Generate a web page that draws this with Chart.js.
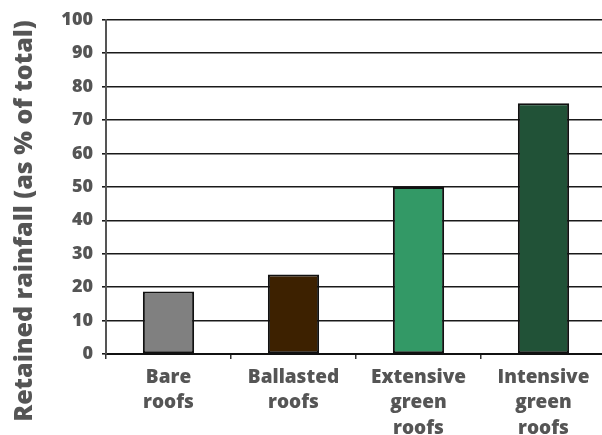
<!DOCTYPE html>
<html>
<head>
<meta charset="utf-8">
<script src="https://cdn.jsdelivr.net/npm/chart.js@4/dist/chart.umd.min.js"></script>
<style>
  html, body { margin: 0; padding: 0; background: #fff; overflow: hidden; }
  #wrap { position: relative; width: 612px; height: 435px; }
</style>
</head>
<body>
<div id="wrap"><canvas id="c" width="612" height="435"></canvas></div>
<script>
// Roof types and the share of rainfall each retains
const categories = [["Bare", "roofs"], ["Ballasted", "roofs"], ["Extensive", "green", "roofs"], ["Intensive", "green", "roofs"]];
const retained = [18.7, 23.8, 50, 75];
const barColors = ["#808080", "#3d2100", "#339966", "#215237"];
const yTicks = [0, 10, 20, 30, 40, 50, 60, 70, 80, 90, 100];
const yTitle = "Retained rainfall (as % of total)";

const textColor = "#555555";
const fontFamily = "'Open Sans', 'DejaVu Sans', sans-serif";

// Vertical axis title, centred on the full canvas height and sized to span it
const sideTitle = {
  id: "sideTitle",
  afterDraw(chart) {
    const ctx = chart.ctx;
    ctx.save();
    ctx.font = "800 20px " + fontFamily;
    const size = Math.min(25, 20 * 418 / ctx.measureText(yTitle).width);
    ctx.font = "800 " + size.toFixed(2) + "px " + fontFamily;
    ctx.translate(32, 221);
    ctx.rotate(-Math.PI / 2);
    ctx.fillStyle = textColor;
    ctx.textAlign = "center";
    ctx.textBaseline = "alphabetic";
    ctx.fillText(yTitle, 0, 0);
    ctx.restore();
  }
};

new Chart(document.getElementById("c"), {
  type: "bar",
  data: {
    labels: categories,
    datasets: [{
      data: retained,
      backgroundColor: barColors,
      borderColor: "#111",
      borderWidth: 2,
      borderSkipped: false,
      categoryPercentage: 1,
      barPercentage: 0.41
    }]
  },
  options: {
    responsive: false,
    animation: false,
    devicePixelRatio: 1,
    layout: { padding: { top: 19, right: 6, left: 0, bottom: 0 } },
    plugins: { legend: { display: false }, tooltip: { enabled: false } },
    scales: {
      x: {
        afterFit(s) { s.height = 81; },
        grid: { drawOnChartArea: false, drawTicks: true, tickLength: 5, color: "#333", lineWidth: 1.5 },
        border: { color: "#111", width: 2 },
        ticks: {
          color: textColor,
          padding: 6,
          maxRotation: 0,
          autoSkip: false,
          font: { family: fontFamily, size: 19, weight: 800, lineHeight: 1.33 }
        }
      },
      y: {
        min: 0,
        max: 100,
        afterFit(s) { s.width = 106; },
        afterBuildTicks(s) { s.ticks = yTicks.map(v => ({ value: v })); },
        grid: { color: "#1a1a1a", lineWidth: 1.6, tickLength: 4 },
        border: { color: "#555", width: 2 },
        ticks: {
          color: textColor,
          padding: 9,
          font: { family: fontFamily, size: 18, weight: 800 }
        }
      }
    }
  },
  plugins: [sideTitle]
});
</script>
</body>
</html>
